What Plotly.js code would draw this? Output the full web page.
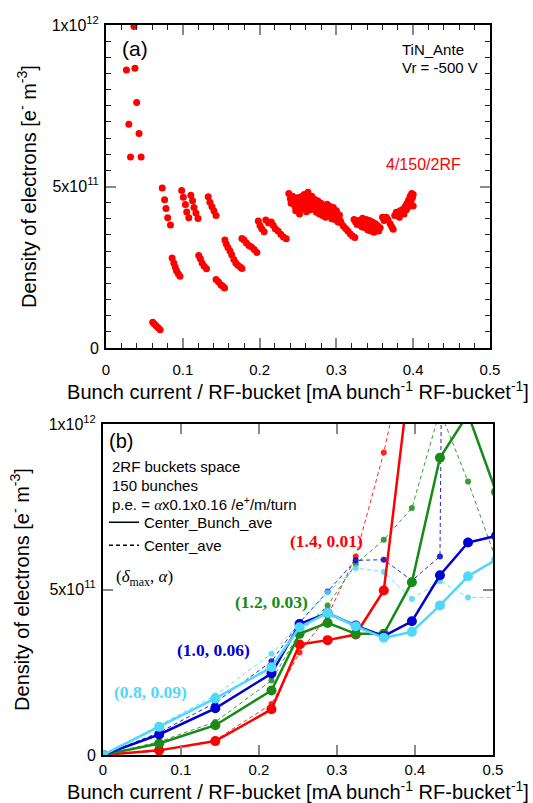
<!DOCTYPE html>
<html>
<head>
<meta charset="utf-8">
<script src="https://cdn.plot.ly/plotly-3.0.1.min.js"></script>
<style>html,body{margin:0;padding:0;background:#fff;}#chart{width:533px;height:803px;}</style>
</head>
<body>
<div id="chart"></div>
<script>
// ---------- Panel (a): measured electron density vs bunch current (units of 1e12 e-/m^3) ----------
const topCurrent = [
  0.0364,0.0266,0.0377,0.0399,0.0297,0.0430,0.0319,0.0457,
  0.0608,0.0630,0.0652,0.0679,0.0705,
  0.0732,0.0763,0.0781,0.0803,0.0839,
  0.0861,0.0883,0.0901,0.0918,0.0941,0.0963,
  0.0985,0.1007,0.1034,0.1051,0.1078,
  0.1105,0.1127,0.1145,0.1171,0.1198,
  0.1207,0.1229,0.1251,0.1278,0.1309,
  0.1331,0.1353,0.1380,0.1406,0.1433,
  0.1433,0.1464,0.1495,0.1522,0.1544,
  0.1548,0.1566,0.1588,0.1615,0.1637,0.1664,0.1690,0.1717,0.1752,0.1770,
  0.1770,0.1797,0.1828,0.1859,0.1894,0.1930,0.1965,
  0.1983,0.2005,0.2028,0.2059,
  0.2081,0.2116,0.2152,0.2178,0.2205,0.2240,0.2276,0.2311,0.2347,
  0.238,0.240,0.241,0.243,0.245,0.246,0.247,0.249,0.250,0.251,0.252,0.254,0.255,0.256,0.258,0.259,0.260,
  0.261,0.263,0.264,0.265,0.266,0.268,0.269,0.270,0.272,0.273,0.274,0.276,0.277,0.278,0.280,0.281,0.282,
  0.284,0.285,0.286,0.288,0.289,0.290,0.292,0.293,0.294,0.296,0.297,0.298,0.300,0.301,0.302,0.304,0.305,
  0.306,0.309,0.312,0.315,0.318,0.321,0.324,
  0.323,0.325,0.327,0.329,0.331,0.333,0.334,0.336,0.337,0.339,0.340,0.341,0.343,0.344,0.345,0.347,0.348,
  0.349,0.351,0.352,0.354,0.355,0.357,
  0.360,0.362,0.365,0.367,0.370,0.372,0.374,0.376,0.378,0.380,0.382,0.383,0.385,0.387,0.388,0.390,0.391,
  0.392,0.393,0.394,0.395,0.396,0.397,0.398,0.399,0.400,0.400
];
const topDensity = [
  0.995,0.861,0.866,0.760,0.693,0.664,0.591,0.591,
  0.0795,0.0744,0.0692,0.0630,0.0568,
  0.495,0.459,0.432,0.403,0.381,
  0.279,0.263,0.251,0.239,0.230,0.222,
  0.488,0.467,0.444,0.421,0.403,
  0.473,0.456,0.435,0.418,0.401,
  0.286,0.276,0.263,0.253,0.245,
  0.468,0.451,0.437,0.424,0.410,
  0.212,0.205,0.196,0.191,0.186,
  0.334,0.322,0.311,0.300,0.289,0.274,0.263,0.256,0.250,0.246,
  0.339,0.334,0.325,0.317,0.313,0.305,0.296,
  0.393,0.379,0.369,0.360,
  0.396,0.387,0.390,0.379,0.369,0.362,0.352,0.344,0.338,
  0.478,0.462,0.448,0.470,0.455,0.440,0.425,0.465,0.450,0.432,0.415,0.468,0.447,0.430,0.475,0.458,0.440,
  0.422,0.482,0.462,0.445,0.428,0.470,0.452,0.435,0.460,0.442,0.420,0.455,0.437,0.415,0.448,0.430,0.410,
  0.440,0.424,0.405,0.445,0.428,0.410,0.438,0.420,0.400,0.435,0.418,0.398,0.425,0.408,0.390,0.412,0.395,
  0.388,0.378,0.370,0.362,0.354,0.347,0.342,
  0.398,0.390,0.382,0.395,0.385,0.375,0.402,0.390,0.372,0.398,0.384,0.365,0.395,0.378,0.362,0.390,0.372,
  0.358,0.385,0.368,0.378,0.362,0.372,
  0.405,0.395,0.405,0.398,0.385,0.375,0.368,0.410,0.420,0.418,0.405,0.425,0.420,0.430,0.415,0.440,0.428,
  0.448,0.436,0.458,0.445,0.470,0.455,0.478,0.465,0.475,0.440
];

// ---------- Panel (b): simulation (units of 1e12 e-/m^3) ----------
const simCurrent = [0, 0.072, 0.144, 0.216, 0.252, 0.288, 0.324, 0.360, 0.396, 0.432, 0.468, 0.504];
const redBunchAve   = [0, 0.014, 0.042, 0.138, 0.334, 0.347, 0.364, 0.497, 1.20];
const redCenterAve  = [0, 0.012, 0.045, 0.154, 0.310, 0.420, 0.600, 0.914, 1.30];
const greenBunchAve = [0, 0.035, 0.090, 0.195, 0.366, 0.399, 0.366, 0.366, 0.522, 0.898, 1.03, 0.795];
const greenCenterAve= [0, 0.040, 0.100, 0.225, 0.370, 0.452, 0.577, 0.650, 0.746, 1.04, 0.826, 0.590];
const blueBunchAve  = [0, 0.062, 0.141, 0.246, 0.396, 0.429, 0.391, 0.359, 0.404, 0.543, 0.642, 0.662];
const blueCenterAve = [0, 0.068, 0.158, 0.283, 0.400, 0.494, 0.588, 0.590, 0.527, 0.600, 10.0];
const cyanBunchAve  = [0, 0.085, 0.171, 0.265, 0.386, 0.429, 0.389, 0.354, 0.372, 0.452, 0.540, 0.590];
const cyanCenterAve = [0, 0.090, 0.180, 0.306, 0.400, 0.491, 0.565, 0.553, 0.471, 0.525, 0.476, 0.476];

const paramLabels = ['(1.4, 0.01)', '(1.2, 0.03)', '(1.0, 0.06)', '(0.8, 0.09)'];
const yTickVals = [0, 5e11, 1e12];
const yTickText = ['0', '5x10<sup>11</sup>', '1x10<sup>12</sup>'];

const E12 = 1e12;
const sc = a => a.map(v => v * E12);

const RED = '#ff0000', GREEN = '#178a17', BLUE = '#0000d2', CYAN = '#4ed8fb';
const SANS = 'Arial, "Liberation Sans", sans-serif';
const SERIF = '"Times New Roman", "Liberation Serif", serif';

const traces = [];
traces.push({
  x: topCurrent, y: sc(topDensity), xaxis: 'x', yaxis: 'y', type: 'scatter', mode: 'markers',
  marker: {color: RED, size: 7}, cliponaxis: false, showlegend: false, hoverinfo: 'skip'
});

const series = [
  [redBunchAve, redCenterAve, RED],
  [greenBunchAve, greenCenterAve, GREEN],
  [blueBunchAve, blueCenterAve, BLUE],
  [cyanBunchAve, cyanCenterAve, CYAN]
];
// dashed (Center_ave) first, behind
series.forEach(([s, d, c]) => {
  traces.push({
    x: simCurrent.slice(0, d.length), y: sc(d), xaxis: 'x2', yaxis: 'y2', type: 'scatter', mode: 'lines+markers',
    line: {color: c, width: 1, dash: '4px,3px'}, marker: {color: c, size: 6}, opacity: 0.85, showlegend: false
  });
});
series.forEach(([s, d, c]) => {
  traces.push({
    x: simCurrent.slice(0, s.length), y: sc(s), xaxis: 'x2', yaxis: 'y2', type: 'scatter', mode: 'lines+markers',
    line: {color: c, width: 2.5}, marker: {color: c, size: 10}, showlegend: false
  });
});
// legend samples
traces.push({x: [null], y: [null], xaxis: 'x2', yaxis: 'y2', type: 'scatter', mode: 'lines', name: 'Center_Bunch_ave',
  legendgroup: 'a', line: {color: '#000', width: 1.5}});
traces.push({x: [null], y: [null], xaxis: 'x2', yaxis: 'y2', type: 'scatter', mode: 'lines', name: 'Center_ave',
  legendgroup: 'b', line: {color: '#000', width: 1.5, dash: '4px,3px'}});

const W = 533, H = 803;
const px = v => v / W, py = v => 1 - v / H;

const axisCommon = {
  showline: true, linecolor: '#000', linewidth: 2, mirror: 'ticks', ticks: 'inside', ticklen: 10,
  tickcolor: '#888', tickwidth: 2, showgrid: false, zeroline: false,
  tickfont: {family: SANS, size: 15, color: '#000'}
};
const yTickFont = {family: SANS, size: 16, color: '#000'};
const xTitle = 'Bunch current / RF-bucket [mA bunch<sup>-1</sup> RF-bucket<sup>-1</sup>]';
const yTitle = 'Density of electrons [e<sup>-</sup> m<sup>-3</sup>]';

const layout = {
  width: W, height: H, margin: {l: 0, r: 0, t: 0, b: 0},
  paper_bgcolor: '#fff', plot_bgcolor: '#fff',
  font: {family: SANS, color: '#000'},
  xaxis: Object.assign({}, axisCommon, {
    domain: [px(106), px(490)], anchor: 'y', range: [0, 0.5], tick0: 0, dtick: 0.1, ticklabelstandoff: 7,
    minor: {tick0: 0, dtick: 0.02, ticks: 'inside', ticklen: 5, tickcolor: '#222', tickwidth: 1},
    title: {text: xTitle, font: {family: SANS, size: 20}, standoff: 3}
  }),
  yaxis: Object.assign({}, axisCommon, {
    domain: [py(348), py(25)], anchor: 'x', range: [0, 1e12], tickmode: 'array', tickvals: yTickVals, ticktext: yTickText,
    tickfont: yTickFont, ticklabelstandoff: 2,
    minor: {tickmode: 'linear', tick0: 0, dtick: 5e10, ticks: 'inside', ticklen: 5, tickcolor: '#222', tickwidth: 1},
    title: {text: yTitle, font: {family: SANS, size: 20}, standoff: 10}
  }),
  xaxis2: Object.assign({}, axisCommon, {
    domain: [px(103), px(493)], anchor: 'y2', range: [0, 0.5], tick0: 0, dtick: 0.1, ticklabelstandoff: 0,
    title: {text: xTitle, font: {family: SANS, size: 20}, standoff: 9}
  }),
  yaxis2: Object.assign({}, axisCommon, {
    domain: [py(755), py(424)], anchor: 'x2', range: [0, 1e12], tickmode: 'array', tickvals: yTickVals, ticktext: yTickText,
    tickfont: yTickFont, ticklabelstandoff: 2,
    title: {text: yTitle, font: {family: SANS, size: 20}, standoff: 14}
  }),
  showlegend: true,
  legend: {x: px(104), y: py(506), xanchor: 'left', yanchor: 'top', bgcolor: 'rgba(0,0,0,0)',
    font: {family: SANS, size: 15, color: '#000'}, tracegroupgap: 0.5, itemwidth: 30},
  annotations: [
    {text: '(a)', x: px(120), y: py(48), xanchor: 'left', yanchor: 'middle', font: {family: SANS, size: 21}},
    {text: 'TiN_Ante', x: px(400), y: py(49), xanchor: 'left', yanchor: 'middle', font: {family: SANS, size: 15}},
    {text: 'Vr = -500 V', x: px(400), y: py(67), xanchor: 'left', yanchor: 'middle', font: {family: SANS, size: 15}},
    {text: '4/150/2RF', x: px(384), y: py(165), xanchor: 'left', yanchor: 'middle', font: {family: SANS, size: 16, color: RED}},
    {text: '(b)', x: px(107), y: py(441), xanchor: 'left', yanchor: 'middle', font: {family: SANS, size: 20}},
    {text: '2RF buckets space', x: px(110), y: py(466), xanchor: 'left', yanchor: 'middle', font: {family: SANS, size: 15}},
    {text: '150 bunches', x: px(110), y: py(485), xanchor: 'left', yanchor: 'middle', font: {family: SANS, size: 15}},
    {text: 'p.e. = <span style="font-family:' + "'Liberation Serif',serif" + '"><i>α</i></span>x0.1x0.16 /e<sup>+</sup>/m/turn',
      x: px(110), y: py(504), xanchor: 'left', yanchor: 'middle', font: {family: SANS, size: 15}},
    {text: '(<i>δ</i><sub>max</sub>, <i>α</i>)', x: px(114), y: py(578), xanchor: 'left', yanchor: 'middle', font: {family: SERIF, size: 17}},
    {text: '<b>' + paramLabels[0] + '</b>', x: px(326), y: py(541), xanchor: 'center', yanchor: 'middle', font: {family: SERIF, size: 17.5, color: RED}},
    {text: '<b>' + paramLabels[1] + '</b>', x: px(271), y: py(602), xanchor: 'center', yanchor: 'middle', font: {family: SERIF, size: 17.5, color: GREEN}},
    {text: '<b>' + paramLabels[2] + '</b>', x: px(213), y: py(650), xanchor: 'center', yanchor: 'middle', font: {family: SERIF, size: 17.5, color: BLUE}},
    {text: '<b>' + paramLabels[3] + '</b>', x: px(150), y: py(692), xanchor: 'center', yanchor: 'middle', font: {family: SERIF, size: 17.5, color: CYAN}}
  ].map(a => Object.assign({xref: 'paper', yref: 'paper', showarrow: false}, a))
};

Plotly.newPlot('chart', traces, layout, {displayModeBar: false, staticPlot: true});
</script>
</body>
</html>
